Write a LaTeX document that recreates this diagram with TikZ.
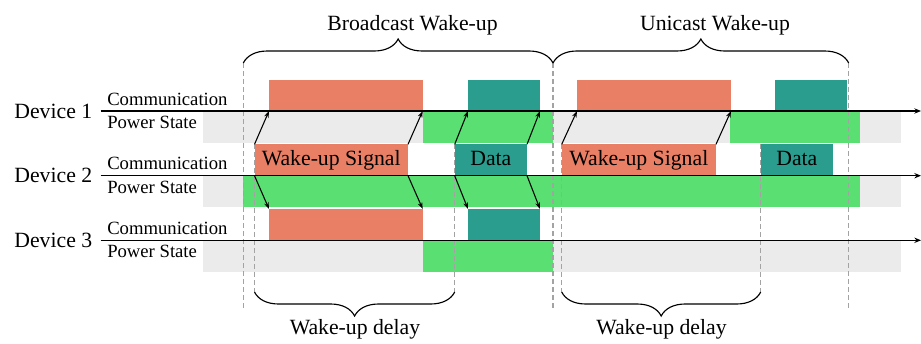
\documentclass[tikz,border=0pt]{standalone}
\usepackage{fontspec}
\setmainfont{Liberation Serif}
\usetikzlibrary{arrows.meta,decorations.pathreplacing,calc}
\definecolor{wuorange}{HTML}{E98066}
\definecolor{wuteal}{HTML}{2A9D8F}
\definecolor{wugreen}{HTML}{5ADF73}
\definecolor{wugray}{HTML}{EBEBEB}
\definecolor{dashgray}{HTML}{A3A3A3}
\newcommand{\bigf}{\fontsize{16.3}{19}\selectfont}
\newcommand{\smallf}{\fontsize{14}{16}\selectfont}
\newcommand{\bx}[7]{\node[boxbase,#6,minimum width={(#4-#2)*0.75pt},minimum height={(#5-#3)*0.75pt}] (#1) at (#2,#3) {#7};}
\tikzset{
  boxbase/.style={anchor=north west,inner sep=0pt,outer sep=0pt,draw=none,font=\bigf,text height=11.2pt,text depth=3.6pt},
  orangebox/.style={fill=wuorange},
  tealbox/.style={fill=wuteal},
  greenbar/.style={fill=wugreen},
  graybar/.style={fill=wugray},
  timeline/.style={line width=1.1pt,-{Stealth[length=5pt,width=4pt]}},
  sig/.style={line width=0.8pt,-{Stealth[length=5pt,width=3.5pt]}},
  guide/.style={dashgray,line width=0.8pt,dash pattern=on 3.5pt off 2.5pt},
  brc/.style={decorate,decoration={brace,amplitude=18pt},line width=0.85pt},
  devlabel/.style={font=\bigf,inner sep=0pt,anchor=base east},
  rowlabel/.style={font=\smallf,inner sep=0pt,anchor=base west},
  title/.style={font=\bigf,inner sep=0pt,anchor=base}
}
\begin{document}
\begin{tikzpicture}[x=0.75pt,y=-0.75pt]
\useasboundingbox (0,0) rectangle (921,343);
% power state backgrounds
\bx{g1}{203}{111}{901}{142.7}{graybar}{}
\bx{g2}{203}{175.7}{901}{206.7}{graybar}{}
\bx{g3}{203}{240.3}{901}{271.7}{graybar}{}
% power state on
\bx{p1a}{422.7}{111}{553}{142.7}{greenbar}{}
\bx{p1b}{730}{111}{860}{142.7}{greenbar}{}
\bx{p2}{243.3}{175.7}{860}{206.7}{greenbar}{}
\bx{p3}{422.7}{240.3}{553}{271.7}{greenbar}{}
% guides
\coordinate (t1) at (243.3,63);
\coordinate (t2) at (553,63);
\coordinate (t3) at (848.7,63);
\coordinate (b1) at (243.3,310);
\coordinate (b2) at (553,310);
\coordinate (b3) at (848.7,310);
\draw[guide] (t1) -- (b1);
\draw[guide] (t2) -- (b2);
\draw[guide] (t3) -- (b3);
% communication boxes
\bx{d1o}{269}{80}{422.7}{111}{orangebox}{}
\bx{d1t}{468}{80}{540}{111}{tealbox}{}
\bx{d1o2}{577}{80}{731}{111}{orangebox}{}
\bx{d1t2}{775}{80}{847}{111}{tealbox}{}
\coordinate (w1) at (254.5,292);
\coordinate (w2) at (454.7,292);
\coordinate (w3) at (561.7,292);
\coordinate (w4) at (760.7,292);
\draw[guide] (254.5,144.3) -- (w1);
\draw[guide] (454.7,144.3) -- (w2);
\draw[guide] (561.7,144.3) -- (w3);
\draw[guide] (760.7,144.3) -- (w4);
\bx{ws1}{254.5}{144.3}{408}{175.7}{orangebox}{Wake-up Signal}
\bx{da1}{454.7}{144.3}{527}{175.7}{tealbox}{Data}
\bx{ws2}{561.7}{144.3}{716}{175.7}{orangebox}{Wake-up Signal}
\bx{da2}{760.7}{144.3}{833}{175.7}{tealbox}{Data}
\bx{d3o}{269}{209}{422.7}{240.3}{orangebox}{}
\bx{d3t}{468}{209}{540}{240.3}{tealbox}{}
% timelines
\coordinate (l1s) at (100.7,111);
\coordinate (l1e) at (921,111);
\coordinate (l2s) at (100.7,175.7);
\coordinate (l2e) at (921,175.7);
\coordinate (l3s) at (100.7,240.3);
\coordinate (l3e) at (921,240.3);
\draw[timeline] (l1s) -- (l1e);
\draw[timeline] (l2s) -- (l2e);
\draw[timeline] (l3s) -- (l3e);
% labels
\node[devlabel] (dev1) at (92.5,118) {Device 1};
\node[devlabel] (dev2) at (92.5,182.7) {Device 2};
\node[devlabel] (dev3) at (92.5,247.3) {Device 3};
\node[rowlabel] (c1) at (107,105) {Communication};
\node[rowlabel] (s1) at (107,128.5) {Power State};
\node[rowlabel] (c2) at (107,169.7) {Communication};
\node[rowlabel] (s2) at (107,193.2) {Power State};
\node[rowlabel] (c3) at (107,234.3) {Communication};
\node[rowlabel] (s3) at (107,257.8) {Power State};
% signal arrows
\draw[sig] (ws1.north west) -- (d1o.south west);
\draw[sig] (ws1.north east) -- (d1o.south east);
\draw[sig] (ws1.south west) -- (d3o.north west);
\draw[sig] (ws1.south east) -- (d3o.north east);
\draw[sig] (da1.north west) -- (d1t.south west);
\draw[sig] (da1.north east) -- (d1t.south east);
\draw[sig] (da1.south west) -- (d3t.north west);
\draw[sig] (da1.south east) -- (d3t.north east);
\draw[sig] (ws2.north west) -- (d1o2.south west);
\draw[sig] (ws2.north east) -- (d1o2.south east);
% braces
\draw[brc] (t1) -- (t2);
\draw[brc] (t2) -- (t3);
\draw[brc] (w2) -- (w1);
\draw[brc] (w4) -- (w3);
\node[title] (bt) at (412.5,30) {Broadcast Wake-up};
\node[title] (ut) at (715,30) {Unicast Wake-up};
\node[title] (wd1) at (355,334) {Wake-up delay};
\node[title] (wd2) at (661.5,334) {Wake-up delay};
\end{tikzpicture}
\end{document}
